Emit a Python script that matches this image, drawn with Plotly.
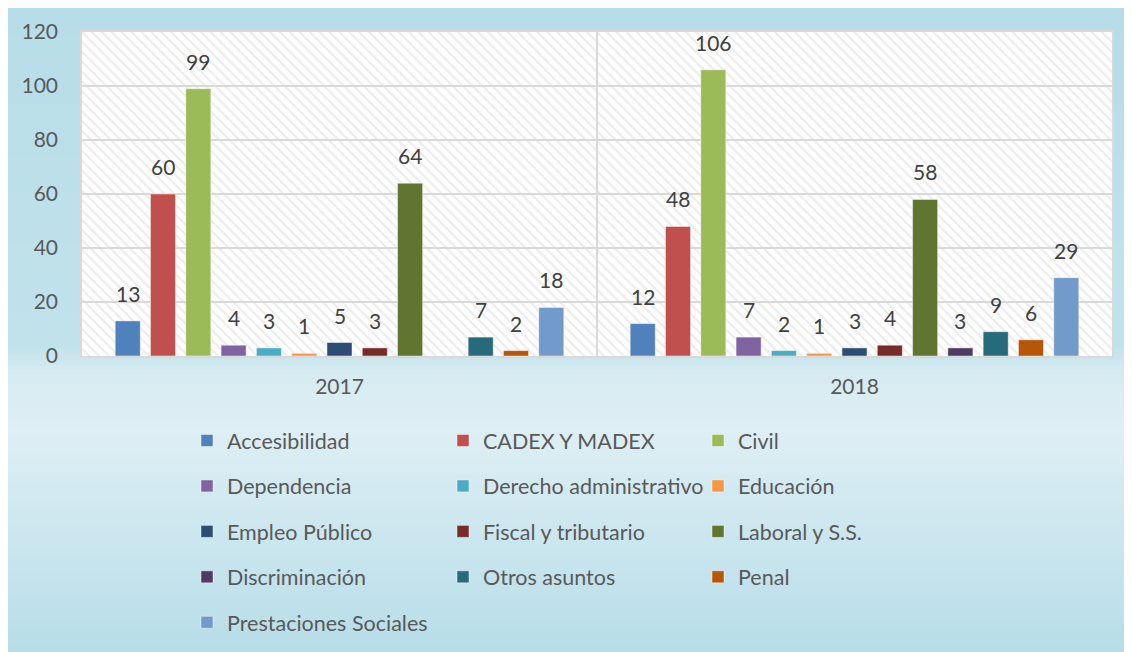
import plotly.graph_objects as go
import numpy as np

years = ["2017", "2018"]
series = ["Accesibilidad", "CADEX Y MADEX", "Civil", "Dependencia",
          "Derecho administrativo", "Educación", "Empleo Público",
          "Fiscal y tributario", "Laboral y S.S.", "Discriminación",
          "Otros asuntos", "Penal", "Prestaciones Sociales"]
values_2017 = [13, 60, 99, 4, 3, 1, 5, 3, 64, None, 7, 2, 18]
values_2018 = [12, 48, 106, 7, 2, 1, 3, 4, 58, 3, 9, 6, 29]
colors = ["#4F81BD", "#C0504D", "#9BBB59", "#8064A2", "#4BACC6", "#F79646",
          "#2C4D75", "#772C2A", "#5F7530", "#4D3B62", "#276A7C", "#B65708",
          "#729ACA"]
y_ticks = [0, 20, 40, 60, 80, 100, 120]

# the page body has an 8px margin, so the figure is shrunk and shifted by it
OFF = 8
W, H = 1132 - OFF, 652 - OFF
ML, MR, MT, MB = 82 - OFF, 20, 32 - OFF, 296
PW, PH = W - ML - MR, H - MT - MB
BARGAP = 0.109
FONT = "Lato"


def px_x(px):
    return (px - OFF - ML) / PW


def px_y(py):
    return (H - MB - (py - OFF)) / PH


fig = go.Figure()

# hatched plot background on the base axes
fig.add_trace(go.Bar(
    x=[1], y=[1], width=[2], xaxis="x", yaxis="y",
    marker=dict(color="rgba(255,255,255,0)", line=dict(width=0),
                pattern=dict(shape="\\", fgcolor="#d9d9d9", bgcolor="rgba(255,255,255,0)",
                             size=7, solidity=0.3)),
    hoverinfo="skip", showlegend=False))

legend_ids = ["legend", "legend2", "legend3"]
for i, name in enumerate(series):
    vals = [values_2017[i], values_2018[i]]
    fig.add_trace(go.Bar(
        x=years, y=vals, name=name, xaxis="x2", yaxis="y2",
        marker=dict(color=colors[i], line=dict(color="rgba(255,255,255,0.45)", width=1)),
        legend=legend_ids[i % 3], legendgroup=name))

# data labels above the bars
n = len(series)
slot = (1 - BARGAP) / n
for i in range(n):
    for j, vals in enumerate([values_2017, values_2018]):
        v = vals[i]
        if v is None:
            continue
        fig.add_annotation(
            x=j + (i - (n - 1) / 2) * slot, y=v, xref="x2", yref="y2",
            text=str(v), showarrow=False, yanchor="bottom", yshift=13,
            font=dict(family=FONT, size=21, color="#404040"))

# chart area gradient
stops_py = [3, 345, 372, 430, 652]
stops_rgb = np.array([[183, 221, 232], [193, 226, 235], [214, 235, 241],
                      [222, 239, 245], [183, 221, 232]], dtype=float)
rows = np.arange(3, 652, 3)
shapes = []
for py in rows:
    rgb = [np.interp(py + 1.5, stops_py, stops_rgb[:, k]) for k in range(3)]
    shapes.append(dict(type="rect", xref="paper", yref="paper", layer="below",
                       x0=px_x(6), x1=px_x(1140), y0=px_y(py + 3.5), y1=px_y(py),
                       line=dict(width=0),
                       fillcolor="rgb(%d,%d,%d)" % tuple(int(round(c)) for c in rgb)))
shapes.append(dict(type="line", xref="paper", yref="paper", layer="below",
                   x0=px_x(6), x1=px_x(6), y0=px_y(3), y1=px_y(660),
                   line=dict(color="#d9d9d9", width=2)))
shapes.append(dict(type="line", xref="paper", yref="paper", layer="below",
                   x0=px_x(5), x1=px_x(1140), y0=px_y(3), y1=px_y(3),
                   line=dict(color="#d9d9d9", width=2)))
shapes.append(dict(type="rect", xref="paper", yref="paper", layer="below",
                   x0=0, x1=1, y0=0, y1=1, line=dict(width=0), fillcolor="white"))

legend_common = dict(orientation="v", xref="container", yref="container",
                     yanchor="top", xanchor="left", bgcolor="rgba(0,0,0,0)",
                     font=dict(family=FONT, size=21.5, color="#595959"),
                     itemwidth=30, tracegroupgap=14.5,
                     itemclick=False, itemdoubleclick=False)
col_x = [201, 457, 712]
legend_top = 420
fig.update_layout(
    width=W, height=H,
    margin=dict(l=ML, r=MR, t=MT, b=MB, autoexpand=False),
    paper_bgcolor="white", plot_bgcolor="white",
    font=dict(family=FONT, size=21, color="#595959"),
    barmode="group", bargap=BARGAP, bargroupgap=0.29,
    shapes=shapes,
    xaxis=dict(range=[0, 2], tick0=0, dtick=1, showgrid=True, gridcolor="#d9d9d9",
               gridwidth=2, showticklabels=False, zeroline=False, showline=True,
               mirror=True, linecolor="#d9d9d9", linewidth=2, fixedrange=True),
    yaxis=dict(range=[0, 1], showgrid=False, showticklabels=False, zeroline=False,
               showline=True, mirror=True, linecolor="#d9d9d9", linewidth=2,
               fixedrange=True),
    xaxis2=dict(overlaying="x", type="category", categoryorder="array",
                categoryarray=years, showgrid=False, zeroline=False,
                ticks="", ticklabelstandoff=16, automargin=False,
                tickfont=dict(family=FONT, size=21, color="#595959")),
    yaxis2=dict(overlaying="y", range=[0, 120], tickvals=y_ticks, showgrid=True,
                gridcolor="#d9d9d9", gridwidth=2, zeroline=False, ticks="",
                ticklabelstandoff=23, automargin=False,
                tickfont=dict(family=FONT, size=21, color="#595959")),
    legend=dict(x=(col_x[0] - OFF - 14) / W, y=1 - (legend_top - OFF) / H, **legend_common),
    legend2=dict(x=(col_x[1] - OFF - 14) / W, y=1 - (legend_top - OFF) / H, **legend_common),
    legend3=dict(x=(col_x[2] - OFF - 14) / W, y=1 - (legend_top - OFF) / H, **legend_common),
)

fig.write_html("out.html")
